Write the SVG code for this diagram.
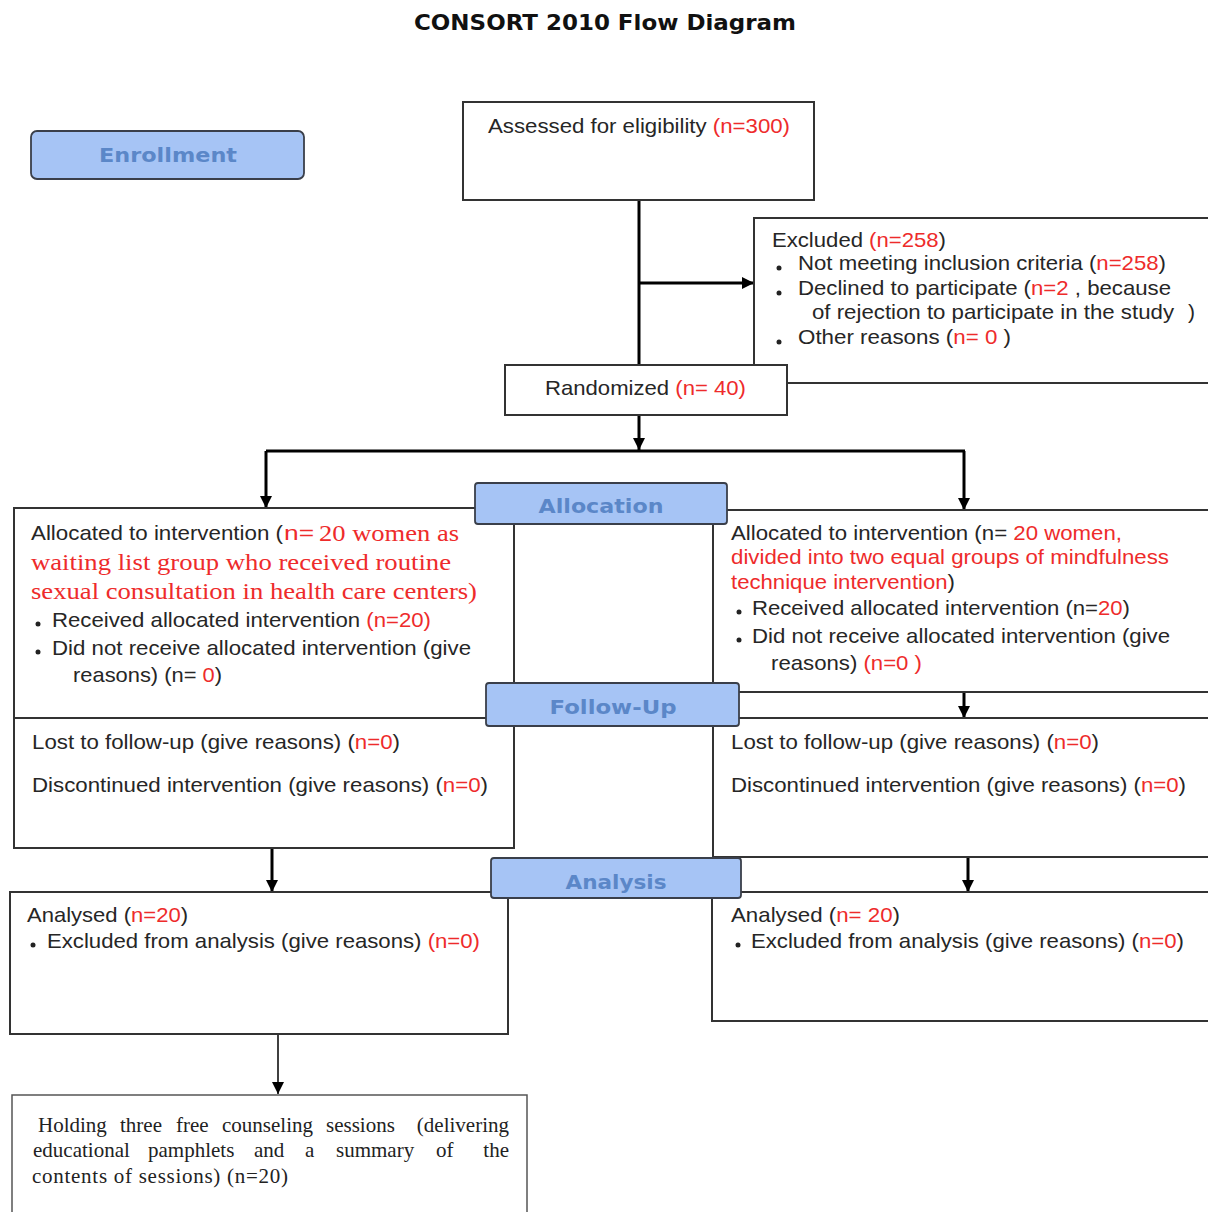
<svg xmlns="http://www.w3.org/2000/svg" width="1208" height="1212" viewBox="0 0 1208 1212">
<style>
.box{fill:#fff;stroke:#333;stroke-width:2}
.thin{fill:#fff;stroke:#555;stroke-width:1.5}
.lbl{fill:#a6c4f5;stroke:#3a3f4a;stroke-width:1.8}
.lt{font-family:"DejaVu Sans",Verdana,sans-serif;font-weight:bold;font-size:20px;fill:#5b87c8;text-anchor:middle}
.t{font-family:"Liberation Sans",Arial,sans-serif;font-size:21px;fill:#262626}
.r{fill:#ee2b2b}
.sr{font-family:"Liberation Serif","Times New Roman",serif;font-size:24px;fill:#ee2b2b}
.tm{font-family:"Liberation Serif","Times New Roman",serif;font-size:21px;fill:#222}
.c{stroke:#000;stroke-width:3;fill:none}
.cthin{stroke:#000;stroke-width:1.5;fill:none}
.dot{fill:#222}
</style>
<defs>
<marker id="ah" markerUnits="userSpaceOnUse" markerWidth="14" markerHeight="14" refX="12" refY="6" orient="auto"><path d="M0,0 L12,6 L0,12 z" fill="#000"/></marker>
<marker id="ahs" markerUnits="userSpaceOnUse" markerWidth="14" markerHeight="14" refX="12" refY="6" orient="auto"><path d="M0,0 L12,6 L0,12 z" fill="#000"/></marker>
</defs>
<rect width="1208" height="1212" fill="#fff"/>
<text x="605" y="30" text-anchor="middle" textLength="382" lengthAdjust="spacingAndGlyphs" style="font-family:'DejaVu Sans',Verdana,sans-serif;font-weight:bold;font-size:22px;fill:#111">CONSORT 2010 Flow Diagram</text>

<g id="connectors">
<path class="c" d="M639,200 V365"/>
<path class="c" d="M639,283 H754" marker-end="url(#ah)"/>
<path class="c" d="M639,415 V450" marker-end="url(#ah)"/>
<path class="c" d="M266,451 H965"/>
<path class="c" d="M266,451 V508" marker-end="url(#ah)"/>
<path class="c" d="M964,451 V510" marker-end="url(#ah)"/>
<path class="c" d="M267,650 V718" marker-end="url(#ah)"/>
<path class="c" d="M964,650 V718" marker-end="url(#ah)"/>
<path class="c" d="M272,826 V892" marker-end="url(#ah)"/>
<path class="c" d="M968,826 V892" marker-end="url(#ah)"/>
<path class="cthin" d="M278,1005 V1094" marker-end="url(#ahs)"/>
</g>

<g id="enrollment">
<rect class="lbl" x="31" y="131" width="273" height="48" rx="6"/>
<text class="lt" x="168" y="162" textLength="138" lengthAdjust="spacingAndGlyphs">Enrollment</text>
</g>

<g id="assessed">
<rect class="box" x="463" y="102" width="351" height="98"/>
<text class="t" x="488" y="133" textLength="302" lengthAdjust="spacingAndGlyphs">Assessed for eligibility <tspan class="r">(n=300)</tspan></text>
</g>

<g id="excluded">
<rect class="box" x="754" y="218" width="470" height="165"/>
<text class="t" x="772" y="247" textLength="174" lengthAdjust="spacingAndGlyphs">Excluded <tspan class="r">(n=258</tspan>)</text>
<circle class="dot" cx="779" cy="268" r="2.5"/>
<text class="t" x="798" y="270" textLength="368" lengthAdjust="spacingAndGlyphs">Not meeting inclusion criteria (<tspan class="r">n=258</tspan>)</text>
<circle class="dot" cx="779" cy="293" r="2.5"/>
<text class="t" x="798" y="295" textLength="373" lengthAdjust="spacingAndGlyphs">Declined to participate (<tspan class="r">n=2</tspan> , because</text>
<text class="t" x="812" y="319" textLength="362" lengthAdjust="spacingAndGlyphs">of rejection to participate in the study</text>
<text class="t" x="1188" y="319">)</text>
<circle class="dot" cx="779" cy="342" r="2.5"/>
<text class="t" x="798" y="344" textLength="213" lengthAdjust="spacingAndGlyphs">Other reasons (<tspan class="r">n= 0</tspan> )</text>
</g>

<g id="randomized">
<rect class="box" x="505" y="365" width="282" height="50"/>
<text class="t" x="545" y="395" textLength="201" lengthAdjust="spacingAndGlyphs">Randomized <tspan class="r">(n= 40)</tspan></text>
</g>

<g id="alloc-left">
<rect class="box" x="14" y="508" width="500" height="210"/>
<text class="t" x="31" y="540" textLength="252" lengthAdjust="spacingAndGlyphs">Allocated to intervention (</text>
<text class="t r" x="284" y="540" textLength="30" lengthAdjust="spacingAndGlyphs">n=</text>
<text class="sr" x="319" y="541" textLength="140" lengthAdjust="spacingAndGlyphs">20 women as</text>
<text class="sr" x="31" y="570" textLength="420" lengthAdjust="spacingAndGlyphs">waiting list group who received routine</text>
<text class="sr" x="31" y="599" textLength="446" lengthAdjust="spacingAndGlyphs">sexual consultation in health care centers)</text>
<circle class="dot" cx="38" cy="624" r="2.5"/>
<text class="t" x="52" y="627" textLength="379" lengthAdjust="spacingAndGlyphs">Received allocated intervention <tspan class="r">(n=20)</tspan></text>
<circle class="dot" cx="38" cy="652" r="2.5"/>
<text class="t" x="52" y="655" textLength="419" lengthAdjust="spacingAndGlyphs">Did not receive allocated intervention (give</text>
<text class="t" x="73" y="682" textLength="149" lengthAdjust="spacingAndGlyphs">reasons) (n= <tspan class="r">0</tspan>)</text>
</g>

<g id="alloc-right">
<rect class="box" x="713" y="510" width="510" height="182"/>
<text class="t" x="731" y="540" textLength="391" lengthAdjust="spacingAndGlyphs">Allocated to intervention (n= <tspan class="r">20 women,</tspan></text>
<text class="t r" x="731" y="564" textLength="438" lengthAdjust="spacingAndGlyphs">divided into two equal groups of mindfulness</text>
<text class="t" x="731" y="589" textLength="224" lengthAdjust="spacingAndGlyphs"><tspan class="r">technique intervention</tspan>)</text>
<circle class="dot" cx="739" cy="612" r="2.5"/>
<text class="t" x="752" y="615" textLength="378" lengthAdjust="spacingAndGlyphs">Received allocated intervention (n=<tspan class="r">20</tspan>)</text>
<circle class="dot" cx="739" cy="640" r="2.5"/>
<text class="t" x="752" y="643" textLength="418" lengthAdjust="spacingAndGlyphs">Did not receive allocated intervention (give</text>
<text class="t" x="771" y="670" textLength="151" lengthAdjust="spacingAndGlyphs">reasons) <tspan class="r">(n=0 )</tspan></text>
</g>

<g id="followup-left">
<rect class="box" x="14" y="718" width="500" height="130"/>
<text class="t" x="32" y="749" textLength="368" lengthAdjust="spacingAndGlyphs">Lost to follow-up (give reasons) (<tspan class="r">n=0</tspan>)</text>
<text class="t" x="32" y="792" textLength="456" lengthAdjust="spacingAndGlyphs">Discontinued intervention (give reasons) (<tspan class="r">n=0</tspan>)</text>
</g>

<g id="followup-right">
<rect class="box" x="713" y="718" width="510" height="139"/>
<text class="t" x="731" y="749" textLength="368" lengthAdjust="spacingAndGlyphs">Lost to follow-up (give reasons) (<tspan class="r">n=0</tspan>)</text>
<text class="t" x="731" y="792" textLength="455" lengthAdjust="spacingAndGlyphs">Discontinued intervention (give reasons) (<tspan class="r">n=0</tspan>)</text>
</g>

<g id="analysed-left">
<rect class="box" x="10" y="892" width="498" height="142"/>
<text class="t" x="27" y="922" textLength="161" lengthAdjust="spacingAndGlyphs">Analysed (<tspan class="r">n=20</tspan>)</text>
<circle class="dot" cx="33" cy="945" r="2.5"/>
<text class="t" x="47" y="948" textLength="433" lengthAdjust="spacingAndGlyphs">Excluded from analysis (give reasons) <tspan class="r">(n=0)</tspan></text>
</g>

<g id="analysed-right">
<rect class="box" x="712" y="892" width="510" height="129"/>
<text class="t" x="731" y="922" textLength="169" lengthAdjust="spacingAndGlyphs">Analysed (<tspan class="r">n= 20</tspan>)</text>
<circle class="dot" cx="738" cy="945" r="2.5"/>
<text class="t" x="751" y="948" textLength="433" lengthAdjust="spacingAndGlyphs">Excluded from analysis (give reasons) (<tspan class="r">n=0</tspan>)</text>
</g>

<g id="counseling">
<rect class="thin" x="12" y="1095" width="515" height="130"/>
<text class="tm" y="1132"><tspan x="38">Holding</tspan><tspan x="120">three</tspan><tspan x="176">free</tspan><tspan x="222">counseling</tspan><tspan x="326">sessions</tspan></text>
<text class="tm" x="509" y="1132" text-anchor="end">(delivering</text>
<text class="tm" y="1157"><tspan x="33">educational</tspan><tspan x="148">pamphlets</tspan><tspan x="254">and</tspan><tspan x="305">a</tspan><tspan x="336">summary</tspan><tspan x="436">of</tspan></text>
<text class="tm" x="509" y="1157" text-anchor="end">the</text>
<text class="tm" x="32" y="1183" textLength="256" lengthAdjust="spacing">contents of sessions) (n=20)</text>
</g>

<g id="label-allocation">
<rect class="lbl" x="475" y="483" width="252" height="41" rx="3"/>
<text class="lt" x="601" y="513" textLength="125" lengthAdjust="spacingAndGlyphs">Allocation</text>
</g>
<g id="label-followup">
<rect class="lbl" x="486" y="683" width="253" height="43" rx="3"/>
<text class="lt" x="613" y="714" textLength="127" lengthAdjust="spacingAndGlyphs">Follow-Up</text>
</g>
<g id="label-analysis">
<rect class="lbl" x="491" y="858" width="250" height="40" rx="3"/>
<text class="lt" x="616" y="889" textLength="101" lengthAdjust="spacingAndGlyphs">Analysis</text>
</g>
</svg>
